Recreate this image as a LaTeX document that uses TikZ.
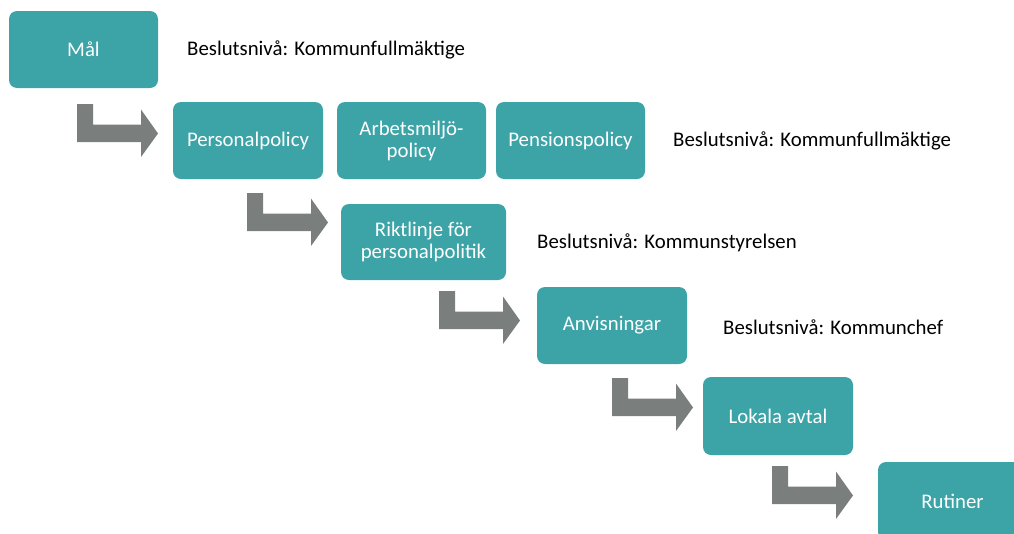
\documentclass[tikz,border=0pt]{standalone}
\usepackage{fontspec}
\setmainfont{Carlito}
\definecolor{teal}{HTML}{3CA3A7}
\definecolor{arrowgray}{HTML}{7A7F7E}
\tikzset{
  box/.style={fill=teal, rounded corners=8pt, text=white, align=center, inner sep=0pt,
    font=\fontsize{20.8}{22}\selectfont},
  level/.style={anchor=west, inner sep=0pt, font=\fontsize{20.8}{22}\selectfont},
  pics/bentarrow/.style={code={
    \fill[arrowgray] (0,0) -- (16,0) -- (16,20.5) -- (64,20.5) -- (64,5.5) -- (81,29.5)
      -- (64,53) -- (64,38) -- (0,38) -- cycle;
  }}
}
\begin{document}
\begin{tikzpicture}[x=1pt, y=-1pt]
          \useasboundingbox (0,0) rectangle (1014,533);
          \clip (0,0) rectangle (1014,533);
          \node[box, minimum width=149pt, minimum height=77pt] (mal) at (83.5, 49.5) {Mål};
          \node[box, minimum width=150pt, minimum height=77pt] (personal) at (248, 140.5) {Personalpolicy};
          \node[box, minimum width=149pt, minimum height=77pt] (arbetsmiljo) at (411.5, 140.5) {Arbetsmiljö-\\policy};
          \node[box, minimum width=149pt, minimum height=77pt] (pension) at (570.5, 140.5) {Pensionspolicy};
          \node[box, minimum width=165pt, minimum height=76pt] (riktlinje) at (423.5, 242) {Riktlinje för\\personalpolitik};
          \node[box, minimum width=150pt, minimum height=77pt] (anvisningar) at (612, 325.5) {Anvisningar};
          \node[box, minimum width=150pt, minimum height=78pt] (lokala) at (778, 416) {Lokala avtal};
          \node[box, minimum width=149pt, minimum height=78pt] (rutiner) at (952.5, 501) {Rutiner};
          %
          \node[level] (niva1) at (187, 50) {Beslutsnivå: Kommunfullmäktige};
          \node[level] (niva2) at (673, 141) {Beslutsnivå: Kommunfullmäktige};
          \node[level] (niva3) at (537, 243) {Beslutsnivå: Kommunstyrelsen};
          \node[level] (niva4) at (723, 327) {Beslutsnivå: Kommunchef};
          %
          \coordinate (a1) at (77, 104);
          \coordinate (a2) at (247, 193);
          \coordinate (a3) at (439, 291);
          \coordinate (a4) at (612, 378);
          \coordinate (a5) at (772, 466);
          \pic at (a1) {bentarrow};
          \pic at (a2) {bentarrow};
          \pic at (a3) {bentarrow};
          \pic at (a4) {bentarrow};
          \pic at (a5) {bentarrow};
        \end{tikzpicture}
\end{document}
